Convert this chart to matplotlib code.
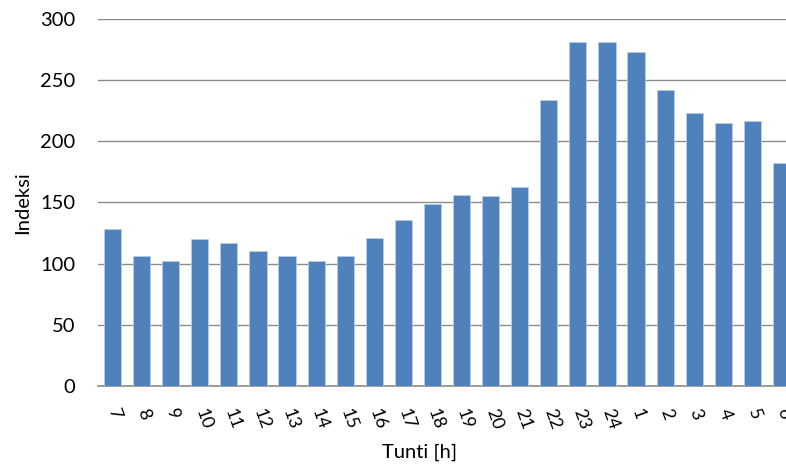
import matplotlib.pyplot as plt
import numpy as np

# tunnit ja indeksit
tunnit = ['7', '8', '9', '10', '11', '12', '13', '14', '15', '16', '17', '18',
          '19', '20', '21', '22', '23', '24', '1', '2', '3', '4', '5', '6']
indeksi = [128, 106, 102, 120, 117, 110, 106, 102, 106, 121, 136, 149,
           156, 155, 163, 234, 281, 281, 273, 242, 223, 215, 217, 182]

plt.rcParams['font.family'] = ['Lato', 'DejaVu Sans']

fig = plt.figure(figsize=(7.86, 4.65), dpi=100)
W, H = 786, 465
# akseli jatkuu kuvan oikean reunan yli
ax = fig.add_axes([98 / W, 1 - 386 / H, 698 / W, 367 / H])

x = np.arange(len(tunnit))
ax.bar(x, indeksi, width=0.59, color='#4f81bd', edgecolor='#b9cde5',
       linewidth=0.6, zorder=3)

ax.set_xlim(-0.5, len(tunnit) - 0.5)
ax.set_ylim(0, 300)
ax.set_yticks(range(0, 301, 50))
ax.set_xticks(x)
ax.set_xticklabels(tunnit, rotation=-70, rotation_mode='anchor',
                   ha='left', va='center')
ax.tick_params(axis='both', length=0, colors='#000000')
ax.tick_params(axis='x', pad=17, labelsize=13)
ax.tick_params(axis='y', pad=16.5, labelsize=14.5)

ax.grid(axis='y', color='#8c8c8c', linewidth=1.0, zorder=0)
for s in ['top', 'right', 'left']:
    ax.spines[s].set_visible(False)
ax.spines['bottom'].set_color('#8c8c8c')
ax.spines['bottom'].set_linewidth(1.2)

ax.set_ylabel('Indeksi', fontsize=14.5, va='center')
ax.set_xlabel('Tunti [h]', fontsize=14.5, va='center')
ax.yaxis.set_label_coords(-75 / 698, 0.5)
ax.xaxis.set_label_coords((420 - 98) / 698, -66 / 367)

fig.savefig('out.png', dpi=100)
